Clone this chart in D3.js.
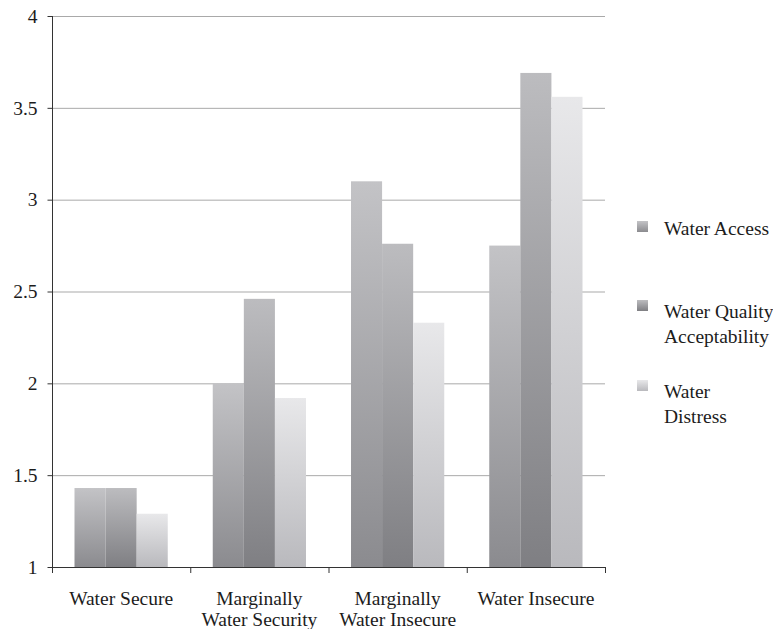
<!DOCTYPE html>
<html><head><meta charset="utf-8">
<script src="https://cdn.jsdelivr.net/npm/d3@7"></script>
<style>
html,body{margin:0;padding:0;background:#fff;overflow:hidden;}
svg{display:block;}
text{font-family:"Liberation Serif","Times New Roman",serif;fill:#1c1c1c;}
</style></head>
<body>
<svg id="chart" width="773" height="629"></svg>
<script>
const categories = [["Water Secure"], ["Marginally", "Water Security"], ["Marginally", "Water Insecure"], ["Water Insecure"]];
const seriesNames = ["Water Access", "Water Quality Acceptability", "Water Distress"];
const legendLines = [["Water Access"], ["Water Quality", "Acceptability"], ["Water", "Distress"]];
const waterAccess = [1.43, 2.0, 3.10, 2.75];
const waterQuality = [1.43, 2.46, 2.76, 3.69];
const waterDistress = [1.29, 1.92, 2.33, 3.56];
const yTicks = [1, 1.5, 2, 2.5, 3, 3.5, 4];
const yTickLabels = ["1", "1.5", "2", "2.5", "3", "3.5", "4"];
const gradTop = ["#c3c3c6", "#bcbcbf", "#e8e8ea"];
const gradBottom = ["#8b8b8f", "#7f7f83", "#b9b9bd"];

const series = [waterAccess, waterQuality, waterDistress];
const svg = d3.select("#chart");
const margin = {left: 52, right: 168, top: 16, bottom: 62};
const W = 773, H = 629;
const x0 = margin.left, x1 = W - margin.right;
const yTop = margin.top, yBot = H - margin.bottom;
const fs = 19.5;

const y = d3.scaleLinear().domain([1, 4]).range([yBot, yTop]);
const x = d3.scaleBand().domain(d3.range(categories.length)).range([x0, x1]).paddingInner(0).paddingOuter(0);
const groupPad = 22.5;
const xs = d3.scaleBand().domain(d3.range(series.length)).range([groupPad, x.bandwidth() - groupPad]).padding(0);

const defs = svg.append("defs");
series.forEach((s, i) => {
  const g = defs.append("linearGradient").attr("id", "g" + i).attr("x1", 0).attr("y1", 0).attr("x2", 0).attr("y2", 1);
  g.append("stop").attr("offset", "0%").attr("stop-color", gradTop[i]);
  g.append("stop").attr("offset", "100%").attr("stop-color", gradBottom[i]);
});

// gridlines
svg.append("g").selectAll("line").data(yTicks.slice(1)).join("line")
  .attr("x1", x0).attr("x2", x1).attr("y1", d => y(d) + 0.5).attr("y2", d => y(d) + 0.5)
  .attr("stroke", "#a9a9a9").attr("stroke-width", 1);

// bars
const bars = svg.append("g");
series.forEach((s, i) => {
  bars.append("g").selectAll("rect").data(s).join("rect")
    .attr("x", (d, j) => x(j) + xs(i))
    .attr("width", xs.bandwidth())
    .attr("y", d => y(d))
    .attr("height", d => y(1) - y(d))
    .attr("fill", `url(#g${i})`);
});

// y axis
const yAxis = d3.axisLeft(y).tickValues(yTicks).tickFormat((d, i) => yTickLabels[i]).tickSize(5).tickPadding(10);
const ya = svg.append("g").attr("transform", `translate(${x0 + 0.5},0)`).call(yAxis);
ya.select(".domain").attr("stroke", "#333").attr("d", `M0,${yTop}V${yBot}`);
ya.selectAll(".tick line").attr("stroke", "#333");
ya.selectAll(".tick text").attr("font-size", fs).attr("font-family", "Liberation Serif").attr("fill", "#1c1c1c");

// x axis
svg.append("line").attr("x1", x0).attr("x2", x1).attr("y1", yBot + 0.5).attr("y2", yBot + 0.5).attr("stroke", "#333");
svg.append("g").selectAll("line").data(d3.range(categories.length + 1)).join("line")
  .attr("x1", d => x0 + d * x.bandwidth() + 0.5).attr("x2", d => x0 + d * x.bandwidth() + 0.5)
  .attr("y1", yBot).attr("y2", yBot + 6).attr("stroke", "#333");

svg.append("g").selectAll("text").data(categories).join("text")
  .attr("x", (d, i) => x(i) + x.bandwidth() / 2)
  .attr("y", 605)
  .attr("text-anchor", "middle")
  .attr("font-size", fs)
  .each(function(d) {
    d3.select(this).selectAll("tspan").data(d).join("tspan")
      .attr("x", d3.select(this).attr("x"))
      .attr("dy", (t, k) => k === 0 ? 0 : 21)
      .text(t => t);
  });

// legend
const legendSquareY = [221, 300, 380];
const legendBase = [235, 318, 398];
const lg = svg.append("g");
seriesNames.forEach((n, i) => {
  lg.append("rect").attr("x", 637).attr("y", legendSquareY[i]).attr("width", 11).attr("height", 11).attr("fill", `url(#g${i})`);
  const t = lg.append("text").attr("x", 664).attr("y", legendBase[i]).attr("font-size", fs);
  t.selectAll("tspan").data(legendLines[i]).join("tspan")
    .attr("x", 664).attr("dy", (d, k) => k === 0 ? 0 : 24.5).text(d => d);
});
</script>
</body></html>
